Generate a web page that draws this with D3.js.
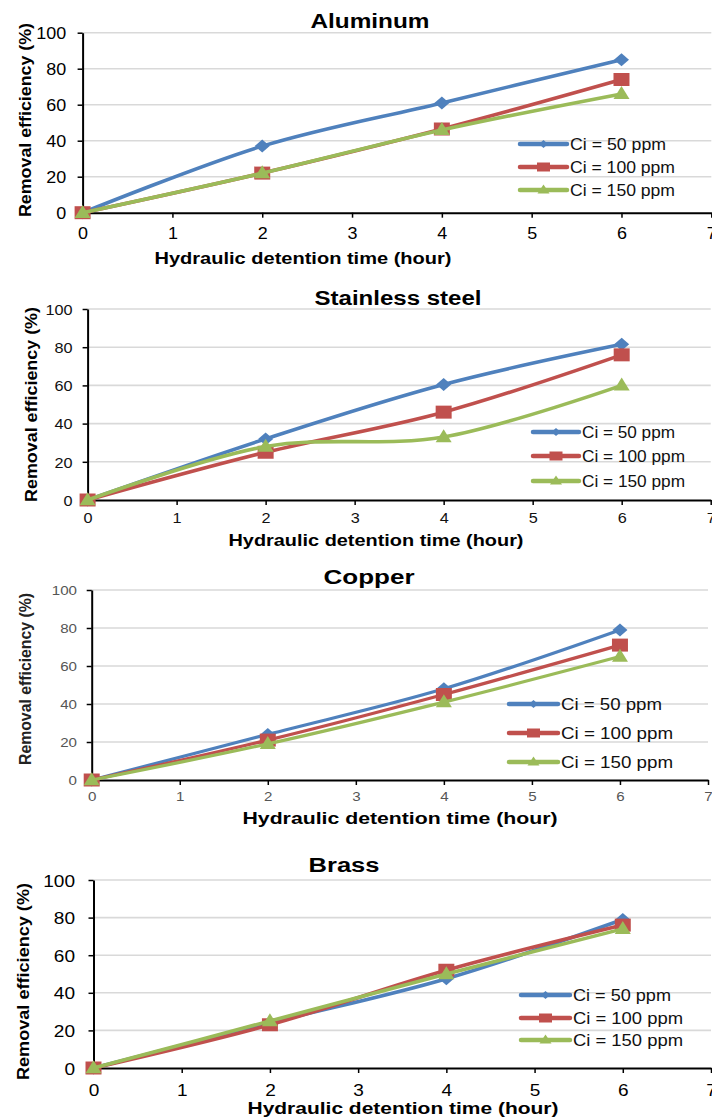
<!DOCTYPE html>
<html>
<head>
<meta charset="utf-8">
<script src="https://d3js.org/d3.v7.min.js"></script>
<style>
    body { margin: 0; background: #fff; }
    svg { display: block; font-family: "Liberation Sans", Arial, sans-serif; }
</style>
</head>
<body>
<div id="my_dataviz"></div>
<script>
// hydraulic detention time (hour) of the measurements
var hours = [0, 2, 4, 6];
var xTicks = [0, 1, 2, 3, 4, 5, 6, 7];
var yTicks = [0, 20, 40, 60, 80, 100];
var seriesNames = ["Ci = 50 ppm", "Ci = 100 ppm", "Ci = 150 ppm"];
var metals = ["Aluminum", "Stainless steel", "Copper", "Brass"];

// removal efficiency (%) : one row per initial concentration
var aluminum = [[0, 37, 61, 85], [0, 22, 46.5, 74], [0, 22, 46, 66]];
var stainless = [[0, 32, 60.5, 81.5], [0, 25, 46, 76], [0, 28, 33, 60]];
var copper = [[0, 24, 48, 79], [0, 21, 45, 71], [0, 19, 41, 65]];
var brass = [[0, 24, 47.5, 79], [0, 23, 52, 76], [0, 25, 50, 74]];
var allValues = [aluminum, stainless, copper, brass];

var colors = ["#4F81BD", "#C0504D", "#9BBB59"];
var symbols = ["diamond", "square", "triangle"];

// where each of the four stacked charts sits on the page
var panels = [
    { x0: 82.6, x7: 711.3, top: 32.7, bottom: 212.7,
      title: [370, 20.7, 119], tickFont: 16, tickColor: "#000", yPad: 11.5, xLabY: 233,
      xTitle: [303, 258, 297], yTitle: [31, 120, 194], legend: [520, 567, 570, [144, 167, 190], [96, 105, 105]], lw: 3.6 },
    { x0: 87.6, x7: 710.7, top: 309, bottom: 500,
      title: [398, 298, 167], tickFont: 14.5, tickColor: "#111", yPad: 10, xLabY: 518,
      xTitle: [376, 540, 295], yTitle: [37, 404.5, 195], legend: [533, 579, 582, [432, 456, 481], [93, 103, 103]], lw: 3.6 },
    { x0: 91.7, x7: 708, top: 590, bottom: 780,
      title: [369, 577, 91], tickFont: 13.5, tickColor: "#555", yPad: 9.7, xLabY: 796,
      xTitle: [400, 818, 315], yTitle: [31, 679, 172], legend: [509, 558, 561, [704, 733, 762], [101, 112, 112]], lw: 3.2 },
    { x0: 93.5, x7: 711, top: 880, bottom: 1068,
      title: [344, 865, 71], tickFont: 17, tickColor: "#000", yPad: 13.5, xLabY: 1090,
      xTitle: [403, 1108, 311], yTitle: [29, 981.5, 197], legend: [521, 570, 573, [995, 1018, 1040], [98, 110, 110]], lw: 3.6 }
];

var svg = d3.select("#my_dataviz")
    .append("svg")
    .attr("width", 712)
    .attr("height", 1119);

// symbols a bit wider than tall, like the stretched original
function markerPath(type, w, h) {
    if (type == "diamond") {
        return "M0," + (-h / 2) + "L" + (w / 2) + ",0L0," + (h / 2) + "L" + (-w / 2) + ",0Z";
    } else if (type == "square") {
        return "M" + (-w / 2) + "," + (-h / 2) + "h" + w + "v" + h + "h" + (-w) + "Z";
    } else {
        return "M0," + (-h * 0.6) + "L" + (w / 2) + "," + (h * 0.4) + "L" + (-w / 2) + "," + (h * 0.4) + "Z";
    }
}

function widen(sel, k) {
    sel.each(function() {
        var len = this.getComputedTextLength();
        d3.select(this).attr("textLength", len * k).attr("lengthAdjust", "spacingAndGlyphs");
    });
}

var line = d3.line().curve(d3.curveCardinal.tension(0));

panels.forEach(function(p, i) {
    var values = allValues[i];
    var g = svg.append("g");

    var x = d3.scaleLinear().domain([0, 7]).range([p.x0, p.x7]);
    var y = d3.scaleLinear().domain([0, 100]).range([p.bottom, p.top]);

    // gridlines
    g.selectAll(".grid")
        .data(yTicks.filter(function(d) { return d > 0; }))
        .enter().append("line")
        .attr("x1", p.x0).attr("x2", p.x7)
        .attr("y1", function(d) { return y(d); })
        .attr("y2", function(d) { return y(d); })
        .attr("stroke", "#D9D9D9")
        .attr("stroke-width", 1.6);

    // y axis
    var ya = g.append("g")
        .attr("transform", "translate(" + p.x0 + ",0)")
        .call(d3.axisLeft(y).tickValues(yTicks).tickFormat(d3.format("d")).tickSize(5).tickSizeOuter(0).tickPadding(p.yPad));
    // x axis
    var xa = g.append("g")
        .attr("transform", "translate(0," + p.bottom + ")")
        .call(d3.axisBottom(x).tickValues(xTicks).tickFormat(d3.format("d")).tickSize(5).tickSizeOuter(0));

    [ya, xa].forEach(function(a) {
        a.select(".domain").attr("stroke", "#000").attr("stroke-width", 2);
        a.selectAll(".tick line").attr("stroke", "#000").attr("stroke-width", 1.5);
        a.selectAll("text")
            .attr("font-family", "Liberation Sans, Arial, sans-serif")
            .attr("font-size", p.tickFont)
            .attr("fill", p.tickColor);
    });
    ya.selectAll("text").attr("dy", "0.36em");
    xa.selectAll("text").attr("y", p.xLabY - p.bottom).attr("dy", "0.36em");
    widen(ya.selectAll("text"), 1.12);
    widen(xa.selectAll("text"), 1.12);

    // series lines + markers
    values.forEach(function(vals, s) {
        var pts = hours.map(function(h, k) { return [x(h), y(vals[k])]; });
        g.append("path")
            .attr("d", line(pts))
            .attr("fill", "none")
            .attr("stroke", colors[s])
            .attr("stroke-width", p.lw)
            .attr("stroke-linejoin", "round");
        g.selectAll(".m" + s)
            .data(pts)
            .enter().append("path")
            .attr("transform", function(d) { return "translate(" + d[0] + "," + d[1] + ")"; })
            .attr("d", s == 0 ? markerPath("diamond", 15, 13) : s == 1 ? markerPath("square", 16, 13) : markerPath("triangle", 16, 13))
            .attr("fill", colors[s]);
    });

    // legend
    var lg = p.legend;
    seriesNames.forEach(function(name, s) {
        var ly = lg[3][s];
        g.append("line")
            .attr("x1", lg[0]).attr("x2", lg[1])
            .attr("y1", ly).attr("y2", ly)
            .attr("stroke", colors[s])
            .attr("stroke-width", 4.5)
            .attr("stroke-linecap", "round");
        g.append("path")
            .attr("transform", "translate(" + ((lg[0] + lg[1]) / 2) + "," + ly + ")")
            .attr("d", s == 0 ? markerPath("diamond", 9, 8) : s == 1 ? markerPath("square", 13, 9) : markerPath("triangle", 12, 9))
            .attr("fill", colors[s]);
        g.append("text")
            .attr("x", lg[2]).attr("y", ly)
            .attr("dy", "0.36em")
            .attr("font-size", 16)
            .attr("fill", "#111")
            .attr("textLength", lg[4][s])
            .attr("lengthAdjust", "spacingAndGlyphs")
            .text(name);
    });

    // titles
    g.append("text")
        .attr("x", p.title[0]).attr("y", p.title[1])
        .attr("dy", "0.36em")
        .attr("text-anchor", "middle")
        .attr("font-size", 20)
        .attr("font-weight", "bold")
        .attr("textLength", p.title[2])
        .attr("lengthAdjust", "spacingAndGlyphs")
        .text(metals[i]);

    g.append("text")
        .attr("x", p.xTitle[0]).attr("y", p.xTitle[1])
        .attr("dy", "0.36em")
        .attr("text-anchor", "middle")
        .attr("font-size", 16.5)
        .attr("font-weight", "bold")
        .attr("textLength", p.xTitle[2])
        .attr("lengthAdjust", "spacingAndGlyphs")
        .text("Hydraulic detention time (hour)");

    g.append("text")
        .attr("transform", "translate(" + p.yTitle[0] + "," + p.yTitle[1] + ") rotate(-90)")
        .attr("text-anchor", "middle")
        .attr("font-size", 16)
        .attr("font-weight", "bold")
        .attr("fill", i == 2 ? "#222" : "#000")
        .attr("textLength", p.yTitle[2])
        .attr("lengthAdjust", "spacingAndGlyphs")
        .text("Removal efficiency (%)");
});
</script>
</body>
</html>
